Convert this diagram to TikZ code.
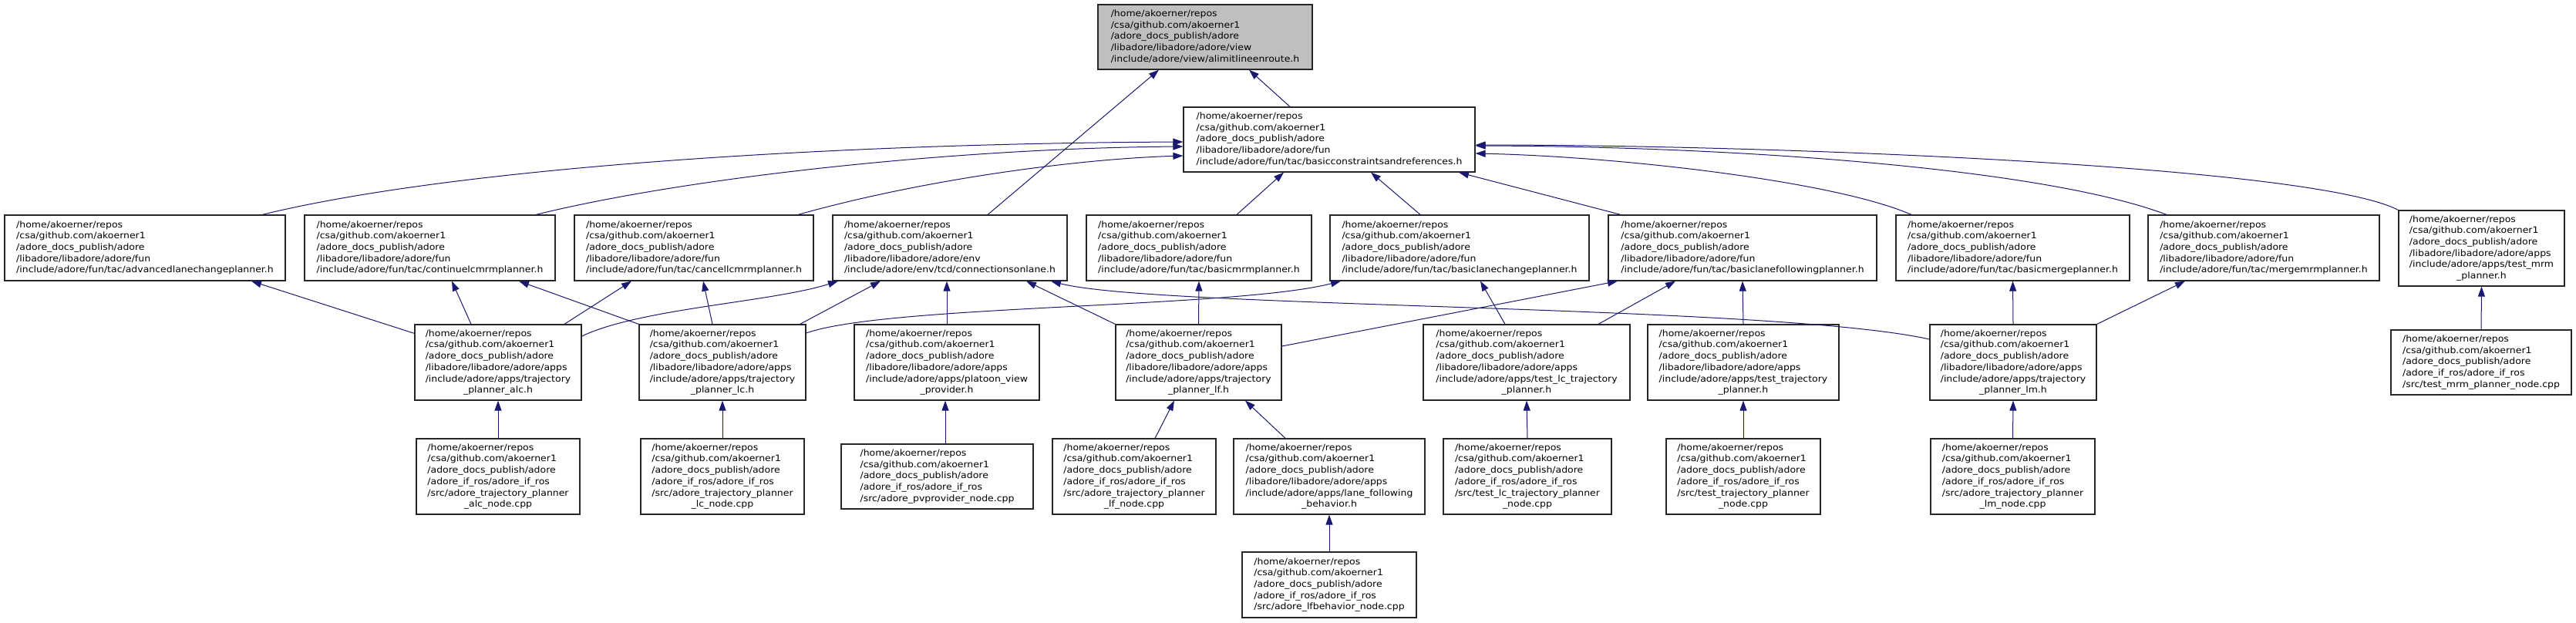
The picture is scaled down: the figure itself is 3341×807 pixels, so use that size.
\documentclass[tikz,border=0pt]{standalone}
\usepackage{fontspec}
\setmainfont{DejaVu Sans}[FakeStretch=1.085]
\usetikzlibrary{arrows.meta}
\definecolor{edgeblue}{RGB}{25,25,112}
\definecolor{curgray}{RGB}{191,191,191}
\newcommand{\hd}{/home/akoerner/repos\\/csa/github.com/akoerner1\\/adore\_docs\_publish/adore}
\newcommand{\fpath}[2]{\begin{tabular}{@{}l@{}}#1\\\multicolumn{1}{@{}c@{}}{#2}\end{tabular}}
\tikzset{
  file/.style={draw=black!85, line width=1.2pt, fill=white, inner sep=0pt,
    font=\fontsize{11.5}{14.7}\selectfont, minimum height=85pt},
  tall/.style={minimum height=98pt},
  cur/.style={file, fill=curgray},
  dep/.style={draw=edgeblue, line width=1pt, -{Triangle[length=13pt,width=9pt]}}
}
\begin{document}
\begin{tikzpicture}[x=1pt,y=-1pt]
  \useasboundingbox (0,0) rectangle (3341,807);
  % included file and its direct includer
  \node[cur, minimum width=278pt, minimum height=84pt] (lim) at (1563,48)
    {\fpath{\hd\\/libadore/libadore/adore/view}{/include/adore/view/alimitlineenroute.h}};
  \node[file, minimum width=378pt, minimum height=84pt] (bcr) at (1724,181)
    {\fpath{\hd\\/libadore/libadore/adore/fun}{/include/adore/fun/tac/basicconstraintsandreferences.h}};
  % planners
  \node[file, minimum width=364pt] (alcp) at (188,321.5)
    {\fpath{\hd\\/libadore/libadore/adore/fun}{/include/adore/fun/tac/advancedlanechangeplanner.h}};
  \node[file, minimum width=325pt] (clc) at (557.5,321.5)
    {\fpath{\hd\\/libadore/libadore/adore/fun}{/include/adore/fun/tac/continuelcmrmplanner.h}};
  \node[file, minimum width=310pt] (ccl) at (900,321.5)
    {\fpath{\hd\\/libadore/libadore/adore/fun}{/include/adore/fun/tac/cancellcmrmplanner.h}};
  \node[file, minimum width=304pt] (col) at (1232,321.5)
    {\fpath{\hd\\/libadore/libadore/adore/env}{/include/adore/env/tcd/connectionsonlane.h}};
  \node[file, minimum width=292pt] (bmrm) at (1555,321.5)
    {\fpath{\hd\\/libadore/libadore/adore/fun}{/include/adore/fun/tac/basicmrmplanner.h}};
  \node[file, minimum width=336pt] (blc) at (1893,321.5)
    {\fpath{\hd\\/libadore/libadore/adore/fun}{/include/adore/fun/tac/basiclanechangeplanner.h}};
  \node[file, minimum width=348pt] (blf) at (2260,321.5)
    {\fpath{\hd\\/libadore/libadore/adore/fun}{/include/adore/fun/tac/basiclanefollowingplanner.h}};
  \node[file, minimum width=303pt] (bmg) at (2610.5,321.5)
    {\fpath{\hd\\/libadore/libadore/adore/fun}{/include/adore/fun/tac/basicmergeplanner.h}};
  \node[file, minimum width=300pt] (mmrm) at (2936,321.5)
    {\fpath{\hd\\/libadore/libadore/adore/fun}{/include/adore/fun/tac/mergemrmplanner.h}};
  \node[file, tall, minimum width=215pt] (tmrm) at (3218.5,322)
    {\fpath{\hd\\/libadore/libadore/adore/apps\\/include/adore/apps/test\_mrm}{\_planner.h}};
  % apps
  \node[file, tall, minimum width=216pt] (tpalc) at (646,470)
    {\fpath{\hd\\/libadore/libadore/adore/apps\\/include/adore/apps/trajectory}{\_planner\_alc.h}};
  \node[file, tall, minimum width=216pt] (tplc) at (937,470)
    {\fpath{\hd\\/libadore/libadore/adore/apps\\/include/adore/apps/trajectory}{\_planner\_lc.h}};
  \node[file, tall, minimum width=240pt] (pvp) at (1228,470)
    {\fpath{\hd\\/libadore/libadore/adore/apps\\/include/adore/apps/platoon\_view}{\_provider.h}};
  \node[file, tall, minimum width=215pt] (tplf) at (1554.5,470)
    {\fpath{\hd\\/libadore/libadore/adore/apps\\/include/adore/apps/trajectory}{\_planner\_lf.h}};
  \node[file, tall, minimum width=268pt] (tlc) at (1980,470)
    {\fpath{\hd\\/libadore/libadore/adore/apps\\/include/adore/apps/test\_lc\_trajectory}{\_planner.h}};
  \node[file, tall, minimum width=248pt] (ttp) at (2261,470)
    {\fpath{\hd\\/libadore/libadore/adore/apps\\/include/adore/apps/test\_trajectory}{\_planner.h}};
  \node[file, tall, minimum width=216pt] (tplm) at (2611,470)
    {\fpath{\hd\\/libadore/libadore/adore/apps\\/include/adore/apps/trajectory}{\_planner\_lm.h}};
  \node[file, minimum width=234pt, minimum height=84pt] (tmrmn) at (3218,470)
    {\fpath{\hd\\/adore\_if\_ros/adore\_if\_ros}{/src/test\_mrm\_planner\_node.cpp}};
  % ros nodes
  \node[file, tall, minimum width=212pt] (alcn) at (646,618)
    {\fpath{\hd\\/adore\_if\_ros/adore\_if\_ros\\/src/adore\_trajectory\_planner}{\_alc\_node.cpp}};
  \node[file, tall, minimum width=212pt] (lcn) at (937,618)
    {\fpath{\hd\\/adore\_if\_ros/adore\_if\_ros\\/src/adore\_trajectory\_planner}{\_lc\_node.cpp}};
  \node[file, minimum width=249pt, minimum height=84pt] (pvn) at (1215.5,618)
    {\fpath{\hd\\/adore\_if\_ros/adore\_if\_ros}{/src/adore\_pvprovider\_node.cpp}};
  \node[file, tall, minimum width=212pt] (lfn) at (1471,618)
    {\fpath{\hd\\/adore\_if\_ros/adore\_if\_ros\\/src/adore\_trajectory\_planner}{\_lf\_node.cpp}};
  \node[file, tall, minimum width=248pt] (lfb) at (1724,618)
    {\fpath{\hd\\/libadore/libadore/adore/apps\\/include/adore/apps/lane\_following}{\_behavior.h}};
  \node[file, tall, minimum width=218pt] (tlcn) at (1981,618)
    {\fpath{\hd\\/adore\_if\_ros/adore\_if\_ros\\/src/test\_lc\_trajectory\_planner}{\_node.cpp}};
  \node[file, tall, minimum width=200pt] (ttpn) at (2261,618)
    {\fpath{\hd\\/adore\_if\_ros/adore\_if\_ros\\/src/test\_trajectory\_planner}{\_node.cpp}};
  \node[file, tall, minimum width=213pt] (lmn) at (2610.5,618)
    {\fpath{\hd\\/adore\_if\_ros/adore\_if\_ros\\/src/adore\_trajectory\_planner}{\_lm\_node.cpp}};
  \node[file, minimum width=226pt] (lfbn) at (1724,758.5)
    {\fpath{\hd\\/adore\_if\_ros/adore\_if\_ros}{/src/adore\_lfbehavior\_node.cpp}};
  % include edges
  \draw[dep] ([xshift=-51pt]bcr.north) -- ([xshift=57pt]lim.south);
  \draw[dep] ([xshift=49pt]col.north) -- ([xshift=-60pt]lim.south);
  \draw[dep] ([xshift=152pt]alcp.north) .. controls (600,215) and (1100,186) .. ([yshift=-3pt]bcr.west);
  \draw[dep] ([xshift=137.5pt]clc.north) .. controls (900,228) and (1250,192) .. ([yshift=-9pt]bcr.west);
  \draw[dep] ([xshift=135pt]ccl.north) .. controls (1200,232) and (1400,206) .. ([yshift=-21pt]bcr.west);
  \draw[dep] ([xshift=49pt]bmrm.north) -- ([xshift=-59pt]bcr.south);
  \draw[dep] ([xshift=-51pt]blc.north) -- ([xshift=54pt]bcr.south);
  \draw[dep] ([xshift=-158pt]blf.north) -- ([xshift=168pt]bcr.south);
  \draw[dep] ([xshift=-131.5pt]bmg.north) .. controls (2380,235) and (2100,203) .. ([yshift=-18pt]bcr.east);
  \draw[dep] ([xshift=-126pt]mmrm.north) .. controls (2650,218) and (2250,190) .. ([yshift=-8pt]bcr.east);
  \draw[dep] (tmrm.north west) .. controls (3000,215) and (2300,188) .. ([yshift=-7pt]bcr.east);
  \draw[dep] ([yshift=-12pt]tpalc.north west) -- ([xshift=138pt]alcp.south);
  \draw[dep] ([xshift=-35pt]tpalc.north) -- ([xshift=28.5pt]clc.south);
  \draw[dep] ([xshift=86pt]tpalc.north) -- ([xshift=-81pt]ccl.south);
  \draw[dep] ([yshift=34pt]tpalc.east) .. controls (830,400) and (1000,392) .. ([xshift=-145pt]col.south);
  \draw[dep] (tplc.north west) -- ([xshift=115.5pt]clc.south);
  \draw[dep] ([xshift=-13pt]tplc.north) -- ([xshift=12pt]ccl.south);
  \draw[dep] ([xshift=-8pt]tplc.north east) -- ([xshift=-90pt]col.south);
  \draw[dep] ([yshift=38pt]tplc.east) .. controls (1150,395) and (1600,400) .. ([xshift=-154pt]blc.south);
  \draw[dep] (pvp.north) -- ([xshift=-4pt]col.south);
  \draw[dep] (tplf.north west) -- ([xshift=99pt]col.south);
  \draw[dep] (tplf.north) -- (bmrm.south);
  \draw[dep] ([yshift=21pt]tplf.east) -- ([xshift=-162pt]blf.south);
  \draw[dep] ([xshift=-28pt]tlc.north) -- ([xshift=27pt]blc.south);
  \draw[dep] ([xshift=93pt]tlc.north) -- ([xshift=-87pt]blf.south);
  \draw[dep] (ttp.north) -- (blf.south);
  \draw[dep] ([yshift=30pt]tplm.west) .. controls (2300,395) and (1500,400) .. ([xshift=131pt]col.south);
  \draw[dep] (tplm.north) -- (bmg.south);
  \draw[dep] (tplm.north east) -- ([xshift=-102pt]mmrm.south);
  \draw[dep] (tmrmn.north) -- (tmrm.south);
  \draw[dep] (alcn.north) -- (tpalc.south);
  \draw[dep] (lcn.north) -- (tplc.south);
  \draw[dep] ([xshift=10.5pt]pvn.north) -- ([xshift=-2pt]pvp.south);
  \draw[dep] ([xshift=27pt]lfn.north) -- ([xshift=-31.5pt]tplf.south);
  \draw[dep] ([xshift=-57pt]lfb.north) -- ([xshift=60.5pt]tplf.south);
  \draw[dep] (tlcn.north) -- (tlc.south);
  \draw[dep] (ttpn.north) -- (ttp.south);
  \draw[dep] (lmn.north) -- (tplm.south);
  \draw[dep] (lfbn.north) -- (lfb.south);
\end{tikzpicture}
\end{document}
